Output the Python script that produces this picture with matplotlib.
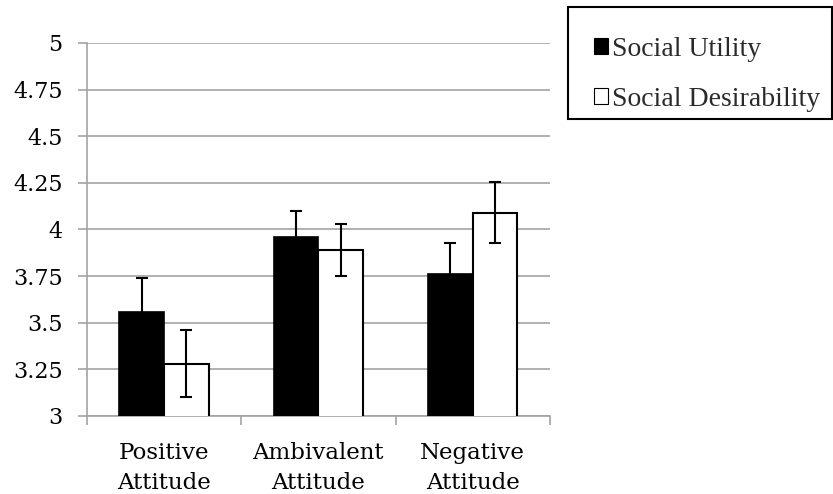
import numpy as np
import matplotlib.pyplot as plt
from matplotlib.patches import Patch, Rectangle

# Data
categories = ["Positive\nAttitude", "Ambivalent\nAttitude", "Negative\nAttitude"]
social_utility = [3.56, 3.96, 3.76]
social_utility_err = [0.18, 0.14, 0.17]
social_desirability = [3.28, 3.89, 4.09]
social_desirability_err = [0.18, 0.14, 0.165]
yticks = [3, 3.25, 3.5, 3.75, 4, 4.25, 4.5, 4.75, 5]
ytick_labels = ["3", "3.25", "3.5", "3.75", "4", "4.25", "4.5", "4.75", "5"]

grid_col = "#a3a3a3"
x = np.arange(len(categories))
w = 0.29

fig = plt.figure(figsize=(8.33, 4.94), dpi=100)
ax = fig.add_axes([0.1044, 0.158, 0.5556, 0.755])

err_kw = dict(ecolor="black", elinewidth=1.5, capsize=4, capthick=1.5)
ax.bar(x - w / 2, social_utility, w, color="black", edgecolor="black",
       linewidth=1.2, yerr=social_utility_err, error_kw=err_kw, zorder=3)
ax.bar(x + w / 2, social_desirability, w, color="white", edgecolor="black",
       linewidth=1.5, yerr=social_desirability_err, error_kw=err_kw, zorder=3)

ax.set_xlim(-0.5, 2.5)
ax.set_ylim(3, 5)
ax.set_yticks(yticks)
ax.set_yticklabels(ytick_labels)
ax.yaxis.grid(True, color=grid_col, linewidth=1.2, zorder=0)
ax.set_axisbelow(True)

ax.set_xticks(x)
ax.set_xticklabels(categories, linespacing=1.45)
ax.set_xticks([-0.5, 0.5, 1.5, 2.5], minor=True)
ax.tick_params(axis="x", which="major", length=0, pad=19)
ax.tick_params(axis="x", which="minor", length=6.5, width=1.2, color=grid_col)
ax.tick_params(axis="y", length=6.5, width=1.2, color=grid_col, pad=11)

for lab in ax.get_xticklabels():
    lab.set_fontfamily("DejaVu Serif")
    lab.set_fontsize(16.5)
for lab in ax.get_yticklabels():
    lab.set_fontfamily("DejaVu Serif")
    lab.set_fontsize(16)

for s in ["top", "right"]:
    ax.spines[s].set_visible(False)
for s in ["left", "bottom"]:
    ax.spines[s].set_color(grid_col)
    ax.spines[s].set_linewidth(1.2)

# legend box drawn separately so its padding matches the original
fig.patches.append(Rectangle((568 / 833, 1 - 119 / 494), 264 / 833, 112 / 494,
                             transform=fig.transFigure, fill=False,
                             edgecolor="black", linewidth=1.5))

handles = [Patch(facecolor="black", edgecolor="black", linewidth=0.8),
           Patch(facecolor="white", edgecolor="black", linewidth=0.8)]
leg = fig.legend(handles, ["Social Utility", "Social Desirability"],
                 loc="upper left", bbox_to_anchor=(594 / 833, 1 - 37 / 494),
                 prop={"family": "Liberation Serif", "size": 20},
                 handlelength=0.5, handleheight=0.5, handletextpad=0.15,
                 labelspacing=0.9, borderpad=0, borderaxespad=0,
                 frameon=False)
for t in leg.get_texts():
    t.set_color("#2a2a2a")

fig.savefig("out.png", dpi=100)
